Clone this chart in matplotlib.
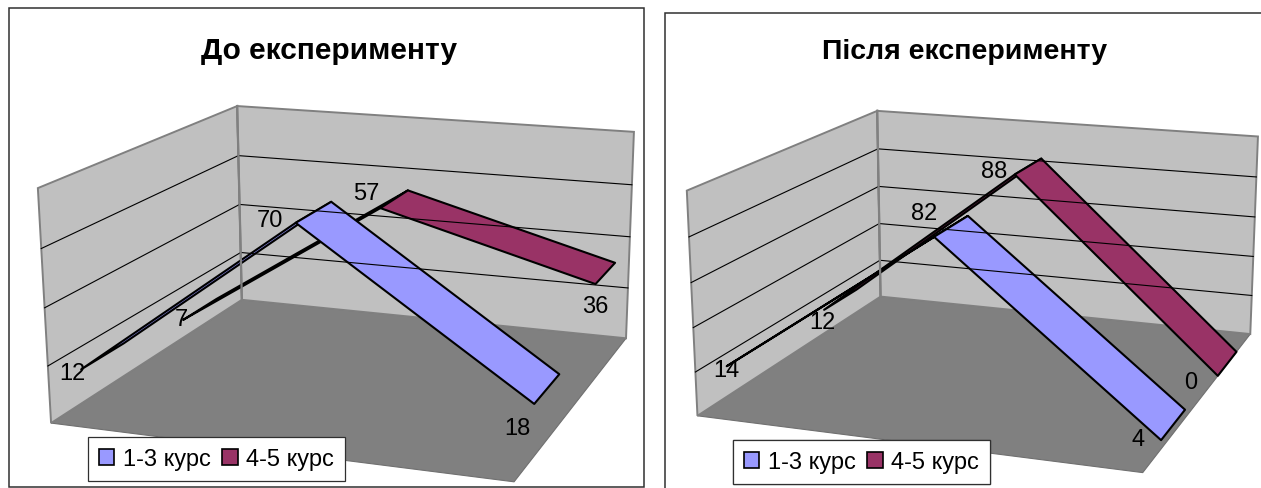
import numpy as np
import matplotlib
matplotlib.use("Agg")
import matplotlib.pyplot as plt
from matplotlib.patches import Patch, Polygon, Rectangle

plt.rcParams["font.family"] = ["Liberation Sans", "DejaVu Sans"]

# percent of students per level, three categories each
before_junior = [12, 70, 18]
before_senior = [7, 57, 36]
after_junior = [14, 82, 4]
after_senior = [12, 88, 0]
series_names = ["1-3 курс", "4-5 курс"]
titles = ["До експерименту", "Після експерименту"]

BLUE = "#9999FF"
MAROON = "#993366"
WALL = "#C0C0C0"
FLOOR = "#808080"

# depth slots of the two ribbons, back one first
senior_depth = (0.155, 0.35)
junior_depth = (0.66, 0.86)


def fit_camera(box):
    # projective camera from box corners (unit cube) to pixels
    rows, rhs = [], []
    for (x, y, z), (u, v) in box:
        rows.append([x, y, z, 1, 0, 0, 0, 0, -u * x, -u * y, -u * z])
        rows.append([0, 0, 0, 0, x, y, z, 1, -v * x, -v * y, -v * z])
        rhs += [u, v]
    p = np.linalg.lstsq(np.array(rows, float), np.array(rhs, float), rcond=None)[0]
    return np.append(p, 1.0).reshape(3, 4)


def project(cam, x, y, z):
    h = cam @ np.array([x, y, z, 1.0])
    return h[0] / h[2], h[1] / h[2]


def draw_ribbon(ax, cam, values, depth, zmax, color):
    xs = np.linspace(0, 1, len(values))
    for i in range(len(values) - 1):
        quad = [
            project(cam, xs[i], depth[0], values[i] / zmax),
            project(cam, xs[i + 1], depth[0], values[i + 1] / zmax),
            project(cam, xs[i + 1], depth[1], values[i + 1] / zmax),
            project(cam, xs[i], depth[1], values[i] / zmax),
        ]
        ax.add_patch(Polygon(quad, fc=color, ec="black", lw=1.5, joinstyle="round"))


def draw_chart(ax, corners, zmax, step, junior, senior, title, title_xy, title_size,
               legend_box, nudges):
    box = [((0, 0, 0), corners["back"]), ((1, 0, 0), corners["right"]),
           ((0, 1, 0), corners["left"]), ((1, 1, 0), corners["front"]),
           ((0, 0, 1), corners["back_top"]), ((1, 0, 1), corners["right_top"]),
           ((0, 1, 1), corners["left_top"])]
    cam = fit_camera(box)

    ax.add_patch(Polygon([project(cam, 0, 0, 0), project(cam, 1, 0, 0),
                          project(cam, 1, 1, 0), project(cam, 0, 1, 0)],
                         fc=FLOOR, ec="#707070", lw=0.8))
    for wall in ([(0, 1), (0, 0)], [(0, 0), (1, 0)]):
        a, b = wall
        pts = [project(cam, *a, 0), project(cam, *b, 0), project(cam, *b, 1), project(cam, *a, 1)]
        ax.add_patch(Polygon(pts, fc=WALL, ec="#808080", lw=1.4))

    # gridlines on both walls
    for val in np.arange(step, zmax, step):
        z = val / zmax
        pts = [project(cam, 0, 1, z), project(cam, 0, 0, z), project(cam, 1, 0, z)]
        ax.plot(*zip(*pts), color="black", lw=0.8, solid_joinstyle="miter")
    ax.plot(*zip(project(cam, 0, 0, 0), project(cam, 0, 0, 1)), color="#808080", lw=1.6)

    draw_ribbon(ax, cam, senior, senior_depth, zmax, MAROON)
    draw_ribbon(ax, cam, junior, junior_depth, zmax, BLUE)

    xs = np.linspace(0, 1, 3)
    k = 0
    for values, depth in ((junior, junior_depth), (senior, senior_depth)):
        for x, val in zip(xs, values):
            px, py = project(cam, x, np.mean(depth), val / zmax)
            ax.text(px + nudges[k][0], py + nudges[k][1], str(val), fontsize=17,
                    ha="center", va="center", color="black")
            k += 1

    ax.text(title_xy[0], title_xy[1], title, fontsize=title_size, fontweight="bold",
            ha="center", va="center")

    # legend frame and keys
    x0, y0, x1, y1 = legend_box
    handles = [Patch(fc=BLUE, ec="black", lw=1.2), Patch(fc=MAROON, ec="black", lw=1.2)]
    leg = ax.legend(handles, series_names, ncol=2, loc="center",
                    bbox_to_anchor=((x0 + x1) / 2, (y0 + y1) / 2),
                    bbox_transform=ax.transData, fontsize=17, fancybox=False,
                    edgecolor="#303030", framealpha=1, borderpad=0.46, handlelength=0.65,
                    handleheight=0.68, handletextpad=0.35, columnspacing=0.5, borderaxespad=0)
    leg.get_frame().set_linewidth(0.9)
    ax.add_artist(leg)


fig = plt.figure(figsize=(12.61, 4.89), dpi=100)
ax = fig.add_axes([0, 0, 1, 1])
ax.set_xlim(0, 1261)
ax.set_ylim(489, 0)
ax.axis("off")

# outer chart frames; the second one runs past the edge of the sheet
ax.add_patch(Rectangle((8.5, 9), 635.5, 479, fc="white", ec="#303030", lw=1.1))
ax.add_patch(Rectangle((665, 14), 640, 520, fc="white", ec="#303030", lw=1.1))

left_box = dict(back=(242, 301), right=(626, 339), left=(51, 424), front=(514, 483),
                back_top=(237, 107), right_top=(634, 133), left_top=(38, 189))
right_box = dict(back=(881, 297), right=(1250, 336), left=(697, 417), front=(1143, 473),
                 back_top=(877, 112), right_top=(1258, 137), left_top=(687, 192))

draw_chart(ax, left_box, 80, 20, before_junior, before_senior, titles[0], (329, 51), 21.5,
           (88, 438, 345, 482),
           [(-31, 17), (-44, 8), (-30, 39), (-19, 10), (-28, -6), (-10, 33)])
draw_chart(ax, right_box, 100, 20, after_junior, after_senior, titles[1], (965, 52), 20.5,
           (733, 441, 990, 485),
           [(-21, 17), (-27, -13), (-35, 14), (-18, 22), (-34, 5), (-37, 18)])

fig.savefig("out.png", dpi=100)
